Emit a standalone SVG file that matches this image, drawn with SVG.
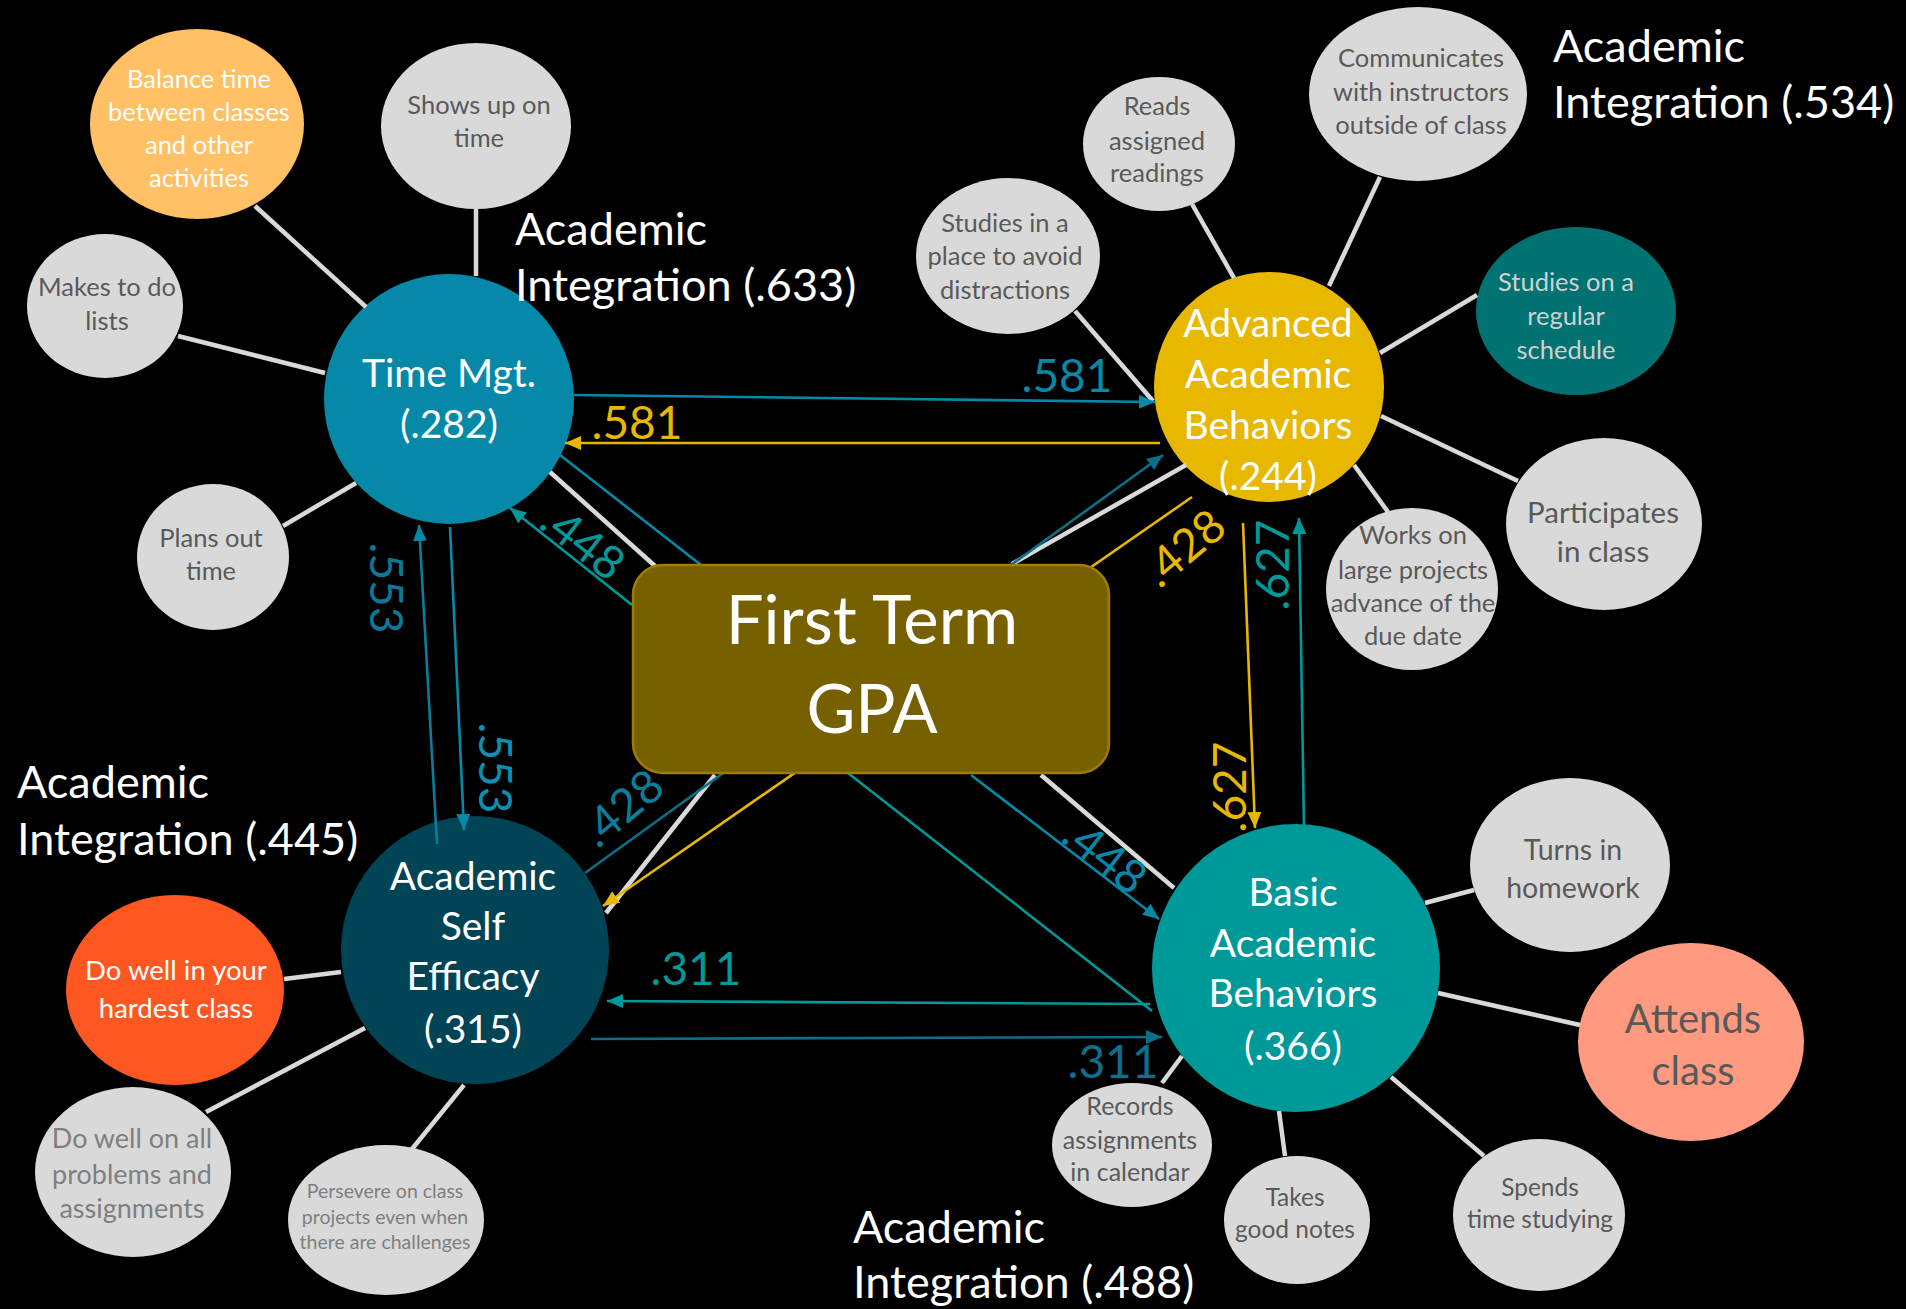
<svg xmlns="http://www.w3.org/2000/svg" width="1906" height="1309" viewBox="0 0 1906 1309">
  <style>
    text { font-family: Lato, "Liberation Sans", sans-serif; }
    .sat { fill: #d9d9d9; }
    .st { fill: #595959; text-anchor: middle; }
    .lt { fill: #7f7f7f; text-anchor: middle; }
    .wt { fill: #ffffff; text-anchor: middle; }
    .main { fill: #ffffff; text-anchor: middle; font-size: 39px; }
    .integ { fill: #ffffff; font-size: 45px; }
    .spoke { stroke: #d9d9d9; stroke-width: 4.5; fill: none; }
    .edge { stroke-width: 2.6; fill: none; }
    .lbl { font-size: 46px; text-anchor: middle; }
  </style>
  <defs>
    <marker id="arBlue" viewBox="0 0 16 14" refX="16" refY="7" markerWidth="16" markerHeight="14" markerUnits="userSpaceOnUse" orient="auto">
      <path d="M0,0 L16,7 L0,14 z" fill="#0689a8"/>
    </marker>
    <marker id="arDeep" viewBox="0 0 16 14" refX="16" refY="7" markerWidth="16" markerHeight="14" markerUnits="userSpaceOnUse" orient="auto">
      <path d="M0,0 L16,7 L0,14 z" fill="#0b6f88"/>
    </marker>
    <marker id="arGold" viewBox="0 0 16 14" refX="16" refY="7" markerWidth="16" markerHeight="14" markerUnits="userSpaceOnUse" orient="auto">
      <path d="M0,0 L16,7 L0,14 z" fill="#e8b800"/>
    </marker>
    <marker id="arTeal" viewBox="0 0 16 14" refX="16" refY="7" markerWidth="16" markerHeight="14" markerUnits="userSpaceOnUse" orient="auto">
      <path d="M0,0 L16,7 L0,14 z" fill="#009999"/>
    </marker>
  </defs>

  <rect x="0" y="0" width="1906" height="1309" fill="#000000"/>

  <!-- Time management indicators -->
  <g id="balance-time">
    <ellipse cx="197" cy="124" rx="107" ry="95" fill="#ffc066"/>
    <text class="wt" font-size="25.5"><tspan x="199" y="88">Balance time</tspan><tspan x="199" y="121">between classes</tspan><tspan x="199" y="154">and other</tspan><tspan x="199" y="187">activities</tspan></text>
  </g>
  <g id="shows-up">
    <ellipse class="sat" cx="476" cy="126" rx="95" ry="83"/>
    <text class="st" font-size="25.5"><tspan x="479" y="114">Shows up on</tspan><tspan x="479" y="147">time</tspan></text>
  </g>
  <g id="todo-lists">
    <ellipse class="sat" cx="105" cy="306" rx="78" ry="72"/>
    <text class="st" font-size="25.5"><tspan x="107" y="296">Makes to do</tspan><tspan x="107" y="330">lists</tspan></text>
  </g>
  <g id="plans-time">
    <ellipse class="sat" cx="213" cy="557" rx="76" ry="73"/>
    <text class="st" font-size="25.5"><tspan x="211" y="547">Plans out</tspan><tspan x="211" y="580">time</tspan></text>
  </g>

  <!-- Advanced academic behavior indicators -->
  <g id="study-place">
    <ellipse class="sat" cx="1008" cy="256" rx="92" ry="78"/>
    <text class="st" font-size="25.5"><tspan x="1005" y="232">Studies in a</tspan><tspan x="1005" y="265">place to avoid</tspan><tspan x="1005" y="299">distractions</tspan></text>
  </g>
  <g id="reads">
    <ellipse class="sat" cx="1159" cy="144" rx="76" ry="67"/>
    <text class="st" font-size="25.5"><tspan x="1157" y="115">Reads</tspan><tspan x="1157" y="150">assigned</tspan><tspan x="1157" y="182">readings</tspan></text>
  </g>
  <g id="communicates">
    <ellipse class="sat" cx="1418" cy="94" rx="109" ry="87"/>
    <text class="st" font-size="25.5"><tspan x="1421" y="67">Communicates</tspan><tspan x="1421" y="101">with instructors</tspan><tspan x="1421" y="134">outside of class</tspan></text>
  </g>
  <g id="regular-schedule">
    <ellipse cx="1576" cy="311" rx="100" ry="84" fill="#007272"/>
    <text font-size="25.5" fill="#d0d0d0" text-anchor="middle"><tspan x="1566" y="291">Studies on a</tspan><tspan x="1566" y="325">regular</tspan><tspan x="1566" y="359">schedule</tspan></text>
  </g>
  <g id="participates">
    <ellipse class="sat" cx="1604" cy="524" rx="98" ry="86"/>
    <text class="st" font-size="29.5"><tspan x="1603" y="523">Participates</tspan><tspan x="1603" y="562">in class</tspan></text>
  </g>
  <g id="large-projects">
    <ellipse class="sat" cx="1412" cy="589" rx="86" ry="81"/>
    <text class="st" font-size="25.5"><tspan x="1413" y="544">Works on</tspan><tspan x="1413" y="579">large projects</tspan><tspan x="1413" y="612">advance of the</tspan><tspan x="1413" y="645">due date</tspan></text>
  </g>

  <!-- Self efficacy indicators -->
  <g id="hardest-class">
    <ellipse cx="175" cy="990" rx="109" ry="95" fill="#ff5722"/>
    <text class="wt" font-size="27.5"><tspan x="176" y="980">Do well in your</tspan><tspan x="176" y="1018">hardest class</tspan></text>
  </g>
  <g id="all-problems">
    <ellipse class="sat" cx="133" cy="1172" rx="98" ry="85"/>
    <text class="lt" font-size="27"><tspan x="132" y="1148">Do well on all</tspan><tspan x="132" y="1184">problems and</tspan><tspan x="132" y="1218">assignments</tspan></text>
  </g>
  <g id="persevere">
    <ellipse class="sat" cx="386" cy="1220" rx="98" ry="75"/>
    <text class="lt" font-size="19.5"><tspan x="385" y="1198">Persevere on class</tspan><tspan x="385" y="1224">projects even when</tspan><tspan x="385" y="1249">there are challenges</tspan></text>
  </g>

  <!-- Basic academic behavior indicators -->
  <g id="homework">
    <ellipse class="sat" cx="1570" cy="865" rx="100" ry="87"/>
    <text class="st" font-size="28.5"><tspan x="1573" y="860">Turns in</tspan><tspan x="1573" y="898">homework</tspan></text>
  </g>
  <g id="attends">
    <ellipse cx="1691" cy="1042" rx="113" ry="99" fill="#ff9a80"/>
    <text class="st" font-size="40"><tspan x="1693" y="1033">Attends</tspan><tspan x="1693" y="1085">class</tspan></text>
  </g>
  <g id="time-studying">
    <ellipse class="sat" cx="1539" cy="1215" rx="86" ry="76"/>
    <text class="st" font-size="24.5"><tspan x="1540" y="1196">Spends</tspan><tspan x="1540" y="1228">time studying</tspan></text>
  </g>
  <g id="good-notes">
    <ellipse class="sat" cx="1297" cy="1220" rx="73" ry="64"/>
    <text class="st" font-size="24.5"><tspan x="1295" y="1206">Takes</tspan><tspan x="1295" y="1238">good notes</tspan></text>
  </g>
  <g id="calendar">
    <ellipse class="sat" cx="1132" cy="1145" rx="80" ry="62"/>
    <text class="st" font-size="25"><tspan x="1130" y="1115">Records</tspan><tspan x="1130" y="1149">assignments</tspan><tspan x="1130" y="1181">in calendar</tspan></text>
  </g>

  <!-- Factor nodes -->
  <g id="time-mgt">
    <circle cx="449" cy="399" r="125" fill="#0689a8"/>
    <text class="main"><tspan x="449" y="387">Time Mgt.</tspan><tspan x="449" y="438">(.282)</tspan></text>
  </g>
  <g id="advanced-behaviors">
    <circle cx="1269" cy="387" r="115" fill="#e8b800"/>
    <text class="main"><tspan x="1268" y="337">Advanced</tspan><tspan x="1268" y="388">Academic</tspan><tspan x="1268" y="439">Behaviors</tspan><tspan x="1268" y="490">(.244)</tspan></text>
  </g>
  <g id="self-efficacy">
    <circle cx="475" cy="950" r="134" fill="#004456"/>
    <text class="main"><tspan x="473" y="890">Academic</tspan><tspan x="473" y="940">Self</tspan><tspan x="473" y="990">Efficacy</tspan><tspan x="473" y="1043">(.315)</tspan></text>
  </g>
  <g id="basic-behaviors">
    <circle cx="1296" cy="968" r="144" fill="#009999"/>
    <text class="main"><tspan x="1293" y="906">Basic</tspan><tspan x="1293" y="957">Academic</tspan><tspan x="1293" y="1007">Behaviors</tspan><tspan x="1293" y="1060">(.366)</tspan></text>
  </g>

  <!-- Connectors -->
  <g id="connectors">
    <line class="spoke" x1="255" y1="206" x2="366" y2="307"/>
    <line class="spoke" x1="476" y1="209" x2="476" y2="276"/>
    <line class="spoke" x1="178" y1="336" x2="325" y2="373"/>
    <line class="spoke" x1="283" y1="526" x2="356" y2="483"/>
    <line class="spoke" x1="550" y1="472" x2="655" y2="566"/>
    <line class="spoke" x1="1075" y1="311" x2="1153" y2="401"/>
    <line class="spoke" x1="1192" y1="204" x2="1234" y2="278"/>
    <line class="spoke" x1="1380" y1="177" x2="1329" y2="286"/>
    <line class="spoke" x1="1477" y1="295" x2="1380" y2="353"/>
    <line class="spoke" x1="1518" y1="481" x2="1381" y2="416"/>
    <line class="spoke" x1="1388" y1="512" x2="1354" y2="465"/>
    <line class="spoke" x1="1186" y1="465" x2="1012" y2="564"/>
    <line class="spoke" x1="606" y1="913" x2="715" y2="775"/>
    <line class="spoke" x1="284" y1="979" x2="341" y2="972"/>
    <line class="spoke" x1="206" y1="1112" x2="365" y2="1028"/>
    <line class="spoke" x1="412" y1="1149" x2="464" y2="1085"/>
    <line class="spoke" x1="1041" y1="775" x2="1174" y2="888"/>
    <line class="spoke" x1="1425" y1="903" x2="1474" y2="890"/>
    <line class="spoke" x1="1438" y1="993" x2="1580" y2="1025"/>
    <line class="spoke" x1="1391" y1="1077" x2="1484" y2="1156"/>
    <line class="spoke" x1="1279" y1="1111" x2="1285" y2="1156"/>
    <line class="spoke" x1="1162" y1="1083" x2="1182" y2="1056"/>

    <!-- path coefficients -->
    <line class="edge" stroke="#0689a8" x1="574" y1="395" x2="1155" y2="402" marker-end="url(#arBlue)"/>
    <line class="edge" stroke="#e8b800" x1="1160" y1="443" x2="565" y2="443" marker-end="url(#arGold)"/>
    <line class="edge" stroke="#0689a8" x1="560" y1="455" x2="701" y2="565"/>
    <line class="edge" stroke="#009999" x1="632" y1="605" x2="510" y2="508" marker-end="url(#arTeal)"/>
    <line class="edge" stroke="#0a7d9a" x1="437" y1="844" x2="419" y2="525" marker-end="url(#arBlue)"/>
    <line class="edge" stroke="#0689a8" x1="450" y1="527" x2="464" y2="830" marker-end="url(#arBlue)"/>
    <line class="edge" stroke="#0b6f88" x1="585" y1="873" x2="1163" y2="455" marker-end="url(#arDeep)"/>
    <line class="edge" stroke="#e8b800" x1="1192" y1="497" x2="603" y2="906" marker-end="url(#arGold)"/>
    <line class="edge" stroke="#0689a8" x1="971" y1="775" x2="1159" y2="919" marker-end="url(#arBlue)"/>
    <line class="edge" stroke="#009999" x1="848" y1="773" x2="1152" y2="1011"/>
    <line class="edge" stroke="#009999" x1="1150" y1="1004" x2="607" y2="1001" marker-end="url(#arTeal)"/>
    <line class="edge" stroke="#0b6f88" x1="591" y1="1039" x2="1162" y2="1037" marker-end="url(#arDeep)"/>
    <line class="edge" stroke="#e8b800" x1="1243" y1="523" x2="1255" y2="828" marker-end="url(#arGold)"/>
    <line class="edge" stroke="#009999" x1="1304" y1="827" x2="1299" y2="518" marker-end="url(#arTeal)"/>

    <text class="lbl" fill="#0689a8" x="1067" y="392">.581</text>
    <text class="lbl" fill="#e8b800" x="637" y="439">.581</text>
    <text class="lbl" fill="#009999" transform="translate(583,542) rotate(38)" y="16">.448</text>
    <text class="lbl" fill="#0a7896" transform="translate(386,588) rotate(90)" y="16">.553</text>
    <text class="lbl" fill="#0891b2" transform="translate(495,768) rotate(90)" y="16">.553</text>
    <text class="lbl" fill="#0a7d9a" transform="translate(622,808) rotate(-40)" y="16">.428</text>
    <text class="lbl" fill="#e8b800" transform="translate(1184,548) rotate(-40)" y="16">.428</text>
    <text class="lbl" fill="#009999" transform="translate(1273,565) rotate(-90)" y="16">.627</text>
    <text class="lbl" fill="#e8b800" transform="translate(1230,787) rotate(-90)" y="16">.627</text>
    <text class="lbl" fill="#0689a8" transform="translate(1105,856) rotate(38)" y="16">.448</text>
    <text class="lbl" fill="#009999" x="696" y="985">.311</text>
    <text class="lbl" fill="#0b7190" x="1113" y="1078">.311</text>
  </g>

  <!-- Outcome -->
  <g id="first-term-gpa">
    <rect x="633" y="565" width="476" height="208" rx="30" ry="30" fill="#766000" stroke="#9e7d00" stroke-width="2.5"/>
    <text class="wt" font-size="67"><tspan x="872" y="644">First Term</tspan><tspan x="872" y="733">GPA</tspan></text>
  </g>

  <!-- Integration values -->
  <g id="integration-labels">
    <text class="integ"><tspan x="515" y="245">Academic</tspan><tspan x="515" y="301">Integration (.633)</tspan></text>
    <text class="integ"><tspan x="1553" y="62">Academic</tspan><tspan x="1553" y="118">Integration (.534)</tspan></text>
    <text class="integ"><tspan x="17" y="798">Academic</tspan><tspan x="17" y="855">Integration (.445)</tspan></text>
    <text class="integ"><tspan x="853" y="1243">Academic</tspan><tspan x="853" y="1298">Integration (.488)</tspan></text>
  </g>
</svg>
